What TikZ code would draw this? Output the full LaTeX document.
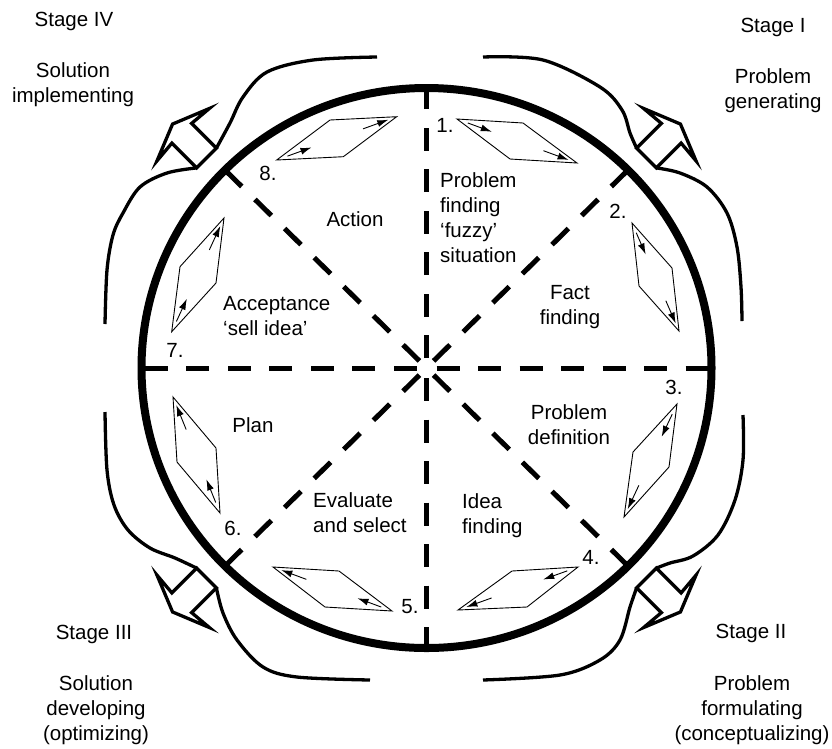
\documentclass[tikz,border=0pt]{standalone}
\usepackage{fontspec}
\setmainfont{Liberation Sans}
\usetikzlibrary{arrows.meta,calc}

% hollow block arrow: base centre (#1,#2), pointing at canvas angle #3
\newcommand\blockarrow[3]{%
  \draw[blockarrow, shift={(#1,#2)}, rotate=#3]
    (0,14) -- (35,14) -- (33,37) -- (48,0) -- (33,-37) -- (35,-14) -- (0,-14) -- cycle;}

% stage parallelogram: start corner, side corner, end corner, side corner
\newcommand\stagebox[4]{%
  \draw[rhomb] (#1) -- (#2) -- (#3) -- (#4) -- cycle;
  \draw[dir] ($(#1)!0.09!(#3)$) -- ($(#1)!0.29!(#3)$);
  \draw[dir] ($(#1)!0.72!(#3)$) -- ($(#1)!0.93!(#3)$);}

\begin{document}
\begin{tikzpicture}[x=1pt,y=-1pt,
  rim/.style={line width=8pt},
  spoke/.style={line width=5pt, dash pattern=on 23pt off 18.5pt},
  flow/.style={line width=3.3pt, line cap=butt, line join=round},
  blockarrow/.style={line width=3.3pt, line join=miter, fill=white},
  rhomb/.style={line width=0.9pt, line join=miter},
  dir/.style={line width=0.9pt, -{Latex[length=11pt,width=7pt]}},
  lbl/.style={font=\fontsize{20.5}{25}\selectfont, inner sep=0pt, align=center},
  lbll/.style={lbl, align=left, anchor=west},
]
\useasboundingbox (0,0) rectangle (832,748);

\coordinate (O) at (426.5,368);

% eight dashed spokes
\foreach \a in {0,45,...,315}
  \draw[spoke] ($(O)+(\a:10pt and 10pt)$) -- ($(O)+(\a:285pt and 280pt)$);

% the wheel
\draw[rim] (O) ellipse [x radius=285pt, y radius=280pt];

% outer flow curves between the stage arrows
\draw[flow] plot[smooth, tension=0.55] coordinates
  {(216.4,148.1) (230,123) (243,97) (267,72) (313,60) (377,57)};
\draw[flow] plot[smooth, tension=0.55] coordinates
  {(196.6,167.9) (167,173) (140,187) (123,213) (113,235) (107,270) (105,324)};
\draw[flow] plot[smooth, tension=0.55] coordinates
  {(483,57) (543,60) (600,87) (622,110) (630,133) (636.6,148.1)};
\draw[flow] plot[smooth, tension=0.55] coordinates
  {(656.4,167.9) (680,173) (707,187) (727,213) (737,247) (741,287) (742,321)};
\draw[flow] plot[smooth, tension=0.55] coordinates
  {(743,415) (743,460) (735,500) (718,535) (693,556) (670,563) (656.4,568.1)};
\draw[flow] plot[smooth, tension=0.55] coordinates
  {(636.6,587.9) (630,607) (620,640) (600,660) (560,675) (483,680)};
\draw[flow] plot[smooth, tension=0.55] coordinates
  {(105,412) (107,470) (114,505) (128,530) (150,548) (175,558) (196.6,568.1)};
\draw[flow] plot[smooth, tension=0.55] coordinates
  {(216.4,587.9) (223,613) (237,640) (263,667) (297,677) (370,680)};

% stage arrows
\blockarrow{206.5}{158}{135}
\blockarrow{646.5}{158}{45}
\blockarrow{646.5}{578}{-45}
\blockarrow{206.5}{578}{-135}

% parallelograms of the eight steps
\coordinate (a1) at (457,119); \coordinate (b1) at (523,123);
\coordinate (c1) at (577,163); \coordinate (d1) at (510,159);
\coordinate (a2) at (632,223); \coordinate (b2) at (672,268);
\coordinate (c2) at (679,331); \coordinate (d2) at (639,286);
\coordinate (a3) at (677,404); \coordinate (b3) at (669,467);
\coordinate (c3) at (624,517); \coordinate (d3) at (633,452);
\coordinate (a4) at (578,567); \coordinate (b4) at (527,607);
\coordinate (c4) at (458,610); \coordinate (d4) at (512,571);
\coordinate (a5) at (392,611); \coordinate (b5) at (325,607);
\coordinate (c5) at (273,567); \coordinate (d5) at (339,571);
\coordinate (a6) at (220,513); \coordinate (b6) at (216,448);
\coordinate (c6) at (173,397); \coordinate (d6) at (177,462);
\coordinate (a7) at (171.7,331.7); \coordinate (b7) at (216,283);
\coordinate (c7) at (224,218); \coordinate (d7) at (180,266.7);
\coordinate (a8) at (276.7,160); \coordinate (b8) at (343.3,156.7);
\coordinate (c8) at (396.7,116.7); \coordinate (d8) at (330,120);
\foreach \k in {1,...,8} {\stagebox{a\k}{b\k}{c\k}{d\k}}

% stage titles
\node[lbl] (st4) at (74,21) {Stage IV};
\node[lbl] (ph4) at (73,84.5) {Solution\\implementing};
\node[lbl] (st1) at (773,27) {Stage I};
\node[lbl] (ph1) at (773,90.5) {Problem\\generating};
\node[lbl] (st3) at (94,634) {Stage III};
\node[lbl] (ph3) at (96,710) {Solution\\developing\\(optimizing)};
\node[lbl] (st2) at (751,633) {Stage II};
\node[lbl] (ph2) at (752,710) {Problem\\formulating\\(conceptualizing)};

% step numbers and names
\node[lbl] (n1) at (445,125) {1.};
\node[lbll] (s1) at (440,217.5) {Problem\\finding\\‘fuzzy’\\situation};
\node[lbl] (n2) at (618,211) {2.};
\node[lbl] (s2) at (570,307) {Fact\\finding};
\node[lbl] (n3) at (674,387) {3.};
\node[lbl] (s3) at (569,424.5) {Problem\\definition};
\node[lbl] (n4) at (591,557) {4.};
\node[lbll] (s4) at (462,515.5) {Idea\\finding};
\node[lbl] (n5) at (410,607) {5.};
\node[lbll] (s5) at (313,513) {Evaluate\\and select};
\node[lbl] (n6) at (233,528) {6.};
\node[lbl] (s6) at (253,425) {Plan};
\node[lbl] (n7) at (175,350) {7.};
\node[lbll] (s7) at (223,316.5) {Acceptance\\‘sell idea’};
\node[lbl] (n8) at (268,173) {8.};
\node[lbl] (s8) at (355,219) {Action};
\end{tikzpicture}
\end{document}
